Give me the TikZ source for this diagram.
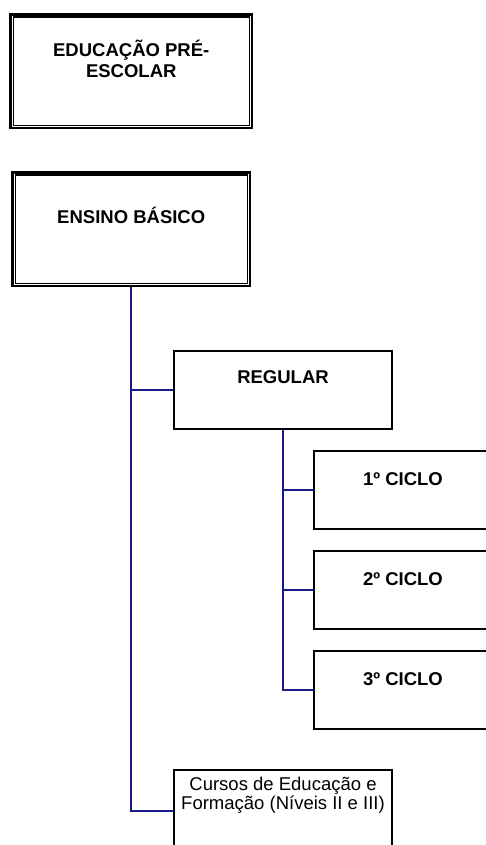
\documentclass[tikz,border=0pt]{standalone}
\usepackage{fontspec}
\setmainfont{Liberation Sans}
\usetikzlibrary{positioning}
\definecolor{linkblue}{HTML}{1A1A8C}

\begin{document}
\begin{tikzpicture}[
    x=1pt, y=-1pt,
    topbox/.style={draw, line width=2.5pt, minimum height=113.5pt,
                   anchor=north west, inner sep=0pt},
    innerframe/.style={draw, line width=1.4pt},
    levelbox/.style={draw, line width=2pt, minimum width=218pt,
                     minimum height=78pt, anchor=north west, inner sep=0pt},
    boxtext/.style={font=\fontsize{18.5}{21}\selectfont\bfseries,
                    align=center, anchor=base, inner sep=0pt},
    plaintext/.style={font=\fontsize{18.5}{17.5}\selectfont,
                      align=center, anchor=base, inner sep=0pt},
    link/.style={draw=linkblue, line width=2pt}
  ]
  \useasboundingbox (0,0) rectangle (486,845);
  \clip (0,0) rectangle (486,845);

  % top level boxes (double frame)
  \node[topbox, minimum width=241.5pt] (pre) at (9.25,13.25) {};
  \node[topbox, minimum width=237.5pt] (ensino) at (11.25,171.25) {};
  \foreach \b in {pre, ensino}
    \draw[innerframe] ([shift={(3.95pt,-3.95pt)}]\b.north west)
      rectangle ([shift={(-3.95pt,3.95pt)}]\b.south east);
  \node[boxtext] (pre-t) at ([yshift=-64.75pt]pre.north) {EDUCAÇÃO PRÉ-\\ESCOLAR};
  \node[boxtext] (ensino-t) at ([yshift=-51.75pt]ensino.north) {ENSINO BÁSICO};

  % second level
  \node[levelbox] (regular) at (173,350) {};
  \node[levelbox, minimum height=82pt] (cursos) at (173,769) {};
  \node[boxtext] (regular-t) at ([yshift=-33pt]regular.north) {REGULAR};
  \node[plaintext] (cursos-t) at ([yshift=-40pt]cursos.north)
    {Cursos de Educação e\\Formação (Níveis II e III)};

  % cycles
  \foreach \n/\y in {1/450, 2/550, 3/650} {
    \node[levelbox, minimum width=178pt] (ciclo\n) at (313,\y) {};
    \node[boxtext] (ciclo\n-t) at ([yshift=-35pt]ciclo\n.north) {\n\textordmasculine{} CICLO};
  }

  % connectors
  \draw[link] (ensino.south) |- (cursos.west);
  \draw[link] (ensino.south |- regular.west) -- (regular.west);
  \draw[link] (regular.south) |- (ciclo3.west);
  \foreach \n in {1,2}
    \draw[link] (regular.south |- ciclo\n.west) -- (ciclo\n.west);
\end{tikzpicture}
\end{document}
